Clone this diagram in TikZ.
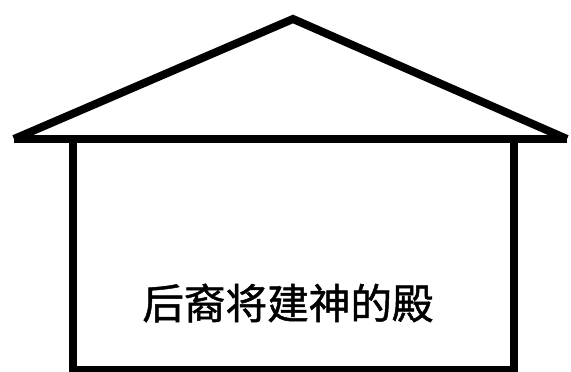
\documentclass[tikz,border=0pt]{standalone}
\usepackage{fontspec}
\newfontfamily\cjk[FakeBold=1.2]{Noto Sans CJK SC}
\usetikzlibrary{positioning}

\begin{document}
\begin{tikzpicture}[line join=miter,x=1pt,y=1pt,
	wall/.style={line width=8pt,color=black}]
	\useasboundingbox (0,0) rectangle (571,372);
	% roof
	\coordinate (L) at (14,233);
	\coordinate (T) at (293,353);
	\coordinate (R) at (567,233);
	\draw[wall] (L) -- (T) -- (R);
	\draw[wall] (L) -- (R);
	% body
	\draw[wall] (73,233) -- (73,2) -- (514,2) -- (514,233);
	\node[inner sep=0pt] (txt) at (288,69) {\cjk\fontsize{41.6}{46}\selectfont 后裔将建神的殿};
\end{tikzpicture}
\end{document}
